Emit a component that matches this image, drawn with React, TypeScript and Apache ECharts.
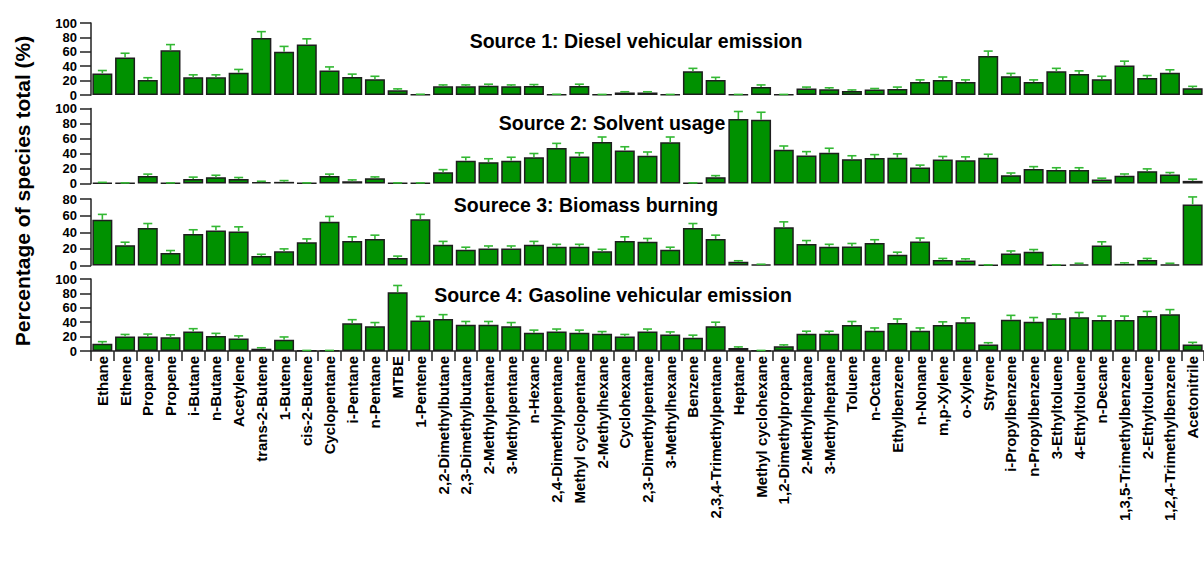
import React, { useEffect, useRef } from "react";
import * as echarts from "echarts";

const categories = [
  "Ethane", "Ethene", "Propane", "Propene", "i-Butane", "n-Butane", "Acetylene",
  "trans-2-Butene", "1-Butene", "cis-2-Butene", "Cyclopentane", "i-Pentane", "n-Pentane",
  "MTBE", "1-Pentene", "2,2-Dimethylbutane", "2,3-Dimethylbutane", "2-Methylpentane",
  "3-Methylpentane", "n-Hexane", "2,4-Dimethylpentane", "Methyl cyclopentane",
  "2-Methylhexane", "Cyclohexane", "2,3-Dimethylpentane", "3-Methylhexane", "Benzene",
  "2,3,4-Trimethylpentane", "Heptane", "Methyl cyclohexane", "1,2-Dimethylpropane",
  "2-Methylheptane", "3-Methylheptane", "Toluene", "n-Octane", "Ethylbenzene", "n-Nonane",
  "m,p-Xylene", "o-Xylene", "Styrene", "i-Propylbenzene", "n-Propylbenzene",
  "3-Ethyltoluene", "4-Ethyltoluene", "n-Decane", "1,3,5-Trimethylbenzene",
  "2-Ethyltoluene", "1,2,4-Trimethylbenzene", "Acetonitrile",
];

const panelTitles = [
  "Source 1: Diesel vehicular emission",
  "Source 2: Solvent usage",
  "Sourece 3: Biomass burning",
  "Source 4: Gasoline vehicular emission",
];

const yAxisTitle = "Percentage of species total (%)";

const s1Values = [
  30, 52, 21, 62, 24.5, 24.5, 31, 79, 60, 70, 34, 25, 22, 6.5, 0.5, 12, 12, 13, 12, 12.5,
  0.5, 12.5, 0.5, 3.5, 3.5, 0.5, 33, 21, 0.5, 11, 0.5, 9, 8, 5.5, 7.5, 8.5, 18, 21, 18, 54,
  26, 18, 33, 29, 22, 41, 23.5, 31, 9.5,
];
const s1Errors = [
  4, 6, 3, 8, 3.5, 3.5, 4.5, 9, 7.5, 8, 5, 4, 4, 2, 0.5, 2, 2, 2, 2, 2,
  0.5, 2.5, 0.3, 1, 1, 0.3, 4, 3.5, 0.3, 3, 0.3, 2, 2, 1.5, 1.5, 2.5, 3, 4, 3, 7,
  4, 3, 4, 4.5, 4, 6, 3.5, 4, 2.5,
];

const s2Values = [
  1, 0.5, 10, 0.5, 6, 8.5, 6, 1.8, 2.2, 0.5, 10, 3, 7, 0.5, 0.5, 15, 30.5, 28.5, 30.5, 35,
  47.5, 36, 55.5, 44, 37, 55, 0.5, 8.5, 86, 85, 45, 37.5, 41, 32.5, 34, 34.5, 21.5, 32, 31,
  34.5, 11, 19.5, 18, 18, 5.3, 10.5, 16.5, 12, 3.5,
];
const s2Errors = [
  0.5, 0.3, 2.5, 0.3, 2.5, 2.5, 2, 1.2, 1.7, 0.3, 2.5, 1.8, 1.8, 0.3, 0.3, 3.5, 4.5, 4.5, 4.5, 5,
  6, 5, 6.5, 5, 5, 7, 0.3, 2, 10, 10, 5, 5, 6, 4.5, 4.5, 5, 3, 4, 4.5,
  4.5, 3, 3, 3, 3, 1.8, 2.2, 3, 2.6, 2.3,
];

const s3Values = [
  55, 24.5, 45, 15, 38, 42, 41, 11.5, 17, 28, 52.5, 29.5, 32, 9, 55.5, 25, 19, 20.5, 20.5, 25,
  22.5, 22.5, 17, 29.5, 28.5, 19, 45, 32, 4.5, 1, 46, 26, 22.5, 23, 27, 13, 29, 6.5, 6,
  0.5, 14.5, 16.5, 0.5, 1.5, 24, 2, 6.5, 1.5, 73.5,
];
const s3Errors = [
  6.5, 3.5, 5.5, 3, 5, 5, 5.5, 2, 3, 4, 6.5, 5, 4.5, 2.3, 6, 4, 3, 3, 3, 4,
  3, 3, 2.5, 5, 4, 3, 5.5, 4.5, 1.2, 0.5, 6.5, 4, 3, 3.5, 4, 3, 4, 2, 2,
  0.3, 3, 2.7, 0.3, 1.2, 4.5, 1.2, 2, 1.2, 9,
];

const s4Values = [
  10, 20, 20, 19, 27, 21, 17.5, 3.2, 15.5, 0.5, 0.5, 38.5, 34.5, 81.5, 42.5, 44.5, 36.5, 36.5,
  34.5, 25.5, 27, 25.5, 24, 20, 27, 23, 18.5, 34.5, 4.2, 0.5, 6.5, 24, 24, 36, 28, 39, 28,
  36, 40, 9, 43.5, 40.5, 45.5, 47, 43, 43, 48.5, 51, 9,
];
const s4Errors = [
  3, 3, 3.5, 3.5, 4, 3.5, 3.5, 1.3, 4, 0.3, 0.3, 5, 5, 9.5, 5.5, 6, 4.5, 4.5,
  5, 3.5, 3.5, 3.5, 3, 3, 3.5, 3.5, 3.5, 5.5, 1.5, 0.3, 2, 3.5, 3.5, 5, 4, 5.5, 4,
  4.5, 6, 2.5, 6, 6, 6, 6.5, 5.5, 5.5, 6.5, 6.5, 3,
];

const panelValues = [s1Values, s2Values, s3Values, s4Values];
const panelErrors = [s1Errors, s2Errors, s3Errors, s4Errors];
const panelMax = [100, 100, 80, 100];

const FONT = "'Liberation Sans', Arial, sans-serif";

export default function App() {
  const ref = useRef<HTMLDivElement>(null);

  useEffect(() => {
    if (!ref.current) return;
    const chart = echarts.init(ref.current, null, { renderer: "svg" });

    const gridLayout = [
      { top: 23, height: 72 },
      { top: 108.5, height: 75 },
      { top: 199, height: 66.5 },
      { top: 279, height: 72 },
    ];
    const titlePos = [
      { x: 636, y: 41 },
      { x: 612, y: 123 },
      { x: 586, y: 205 },
      { x: 613, y: 295 },
    ];

    const grids = gridLayout.map((g) => ({ left: 91, right: -6, top: g.top, height: g.height }));

    const xAxes = gridLayout.map((_, k) => ({
      gridIndex: k,
      type: "category",
      data: categories,
      boundaryGap: true,
      show: k === 3,
      axisLine: { show: k === 3, lineStyle: { color: "#222", width: 1.5 } },
      axisTick: {
        show: k === 3,
        interval: 0,
        alignWithLabel: false,
        length: 10,
        lineStyle: { color: "#222", width: 1.5 },
      },
      axisLabel: {
        show: k === 3,
        interval: 0,
        rotate: 90,
        margin: 5,
        fontSize: 15,
        fontWeight: "bold",
        color: "#000",
        fontFamily: FONT,
      },
      splitLine: { show: false },
    }));

    const yAxes = gridLayout.map((_, k) => ({
      gridIndex: k,
      type: "value",
      min: 0,
      max: panelMax[k],
      interval: 20,
      splitLine: { show: false },
      axisLine: { show: true, lineStyle: { color: "#222", width: 1.5 } },
      axisTick: { show: true, length: 11, lineStyle: { color: "#222", width: 1.5 } },
      axisLabel: {
        fontSize: 13,
        lineHeight: 12,
        fontWeight: "bold",
        color: "#000",
        margin: 14,
        fontFamily: FONT,
        showMinLabel: true,
        showMaxLabel: true,
        hideOverlap: false,
      },
    }));

    const series: any[] = [];
    panelValues.forEach((vals, k) => {
      series.push({
        type: "bar",
        xAxisIndex: k,
        yAxisIndex: k,
        data: vals,
        barCategoryGap: "12%",
        itemStyle: { color: "#009100", borderColor: "#1e1e1e", borderWidth: 1.5 },
        z: 2,
      });
      series.push({
        type: "custom",
        xAxisIndex: k,
        yAxisIndex: k,
        clip: false,
        z: 3,
        encode: { x: 0, y: 1 },
        data: vals.map((v, i) => [i, v, panelErrors[k][i]]),
        renderItem: (params: any, api: any) => {
          const idx = api.value(0);
          const v = api.value(1);
          const e = api.value(2);
          const p0 = api.coord([idx, v]);
          const p1 = api.coord([idx, v + e]);
          const st = { stroke: "#33b833", lineWidth: 1.6 };
          return {
            type: "group",
            children: [
              { type: "line", shape: { x1: p0[0], y1: p0[1], x2: p1[0], y2: p1[1] }, style: st },
              { type: "line", shape: { x1: p1[0] - 4.5, y1: p1[1], x2: p1[0] + 4.5, y2: p1[1] }, style: st },
            ],
          };
        },
      });
    });

    const graphics: any[] = panelTitles.map((t, k) => ({
      type: "text",
      x: titlePos[k].x,
      y: titlePos[k].y,
      z: 10,
      style: {
        text: t,
        align: "center",
        verticalAlign: "middle",
        fill: "#000",
        font: `bold 19.5px ${FONT}`,
      },
    }));
    graphics.push({
      type: "text",
      x: 22,
      y: 191,
      rotation: Math.PI / 2,
      style: {
        text: yAxisTitle,
        align: "center",
        verticalAlign: "middle",
        fill: "#000",
        font: `bold 21px ${FONT}`,
      },
    });

    chart.setOption({
      animation: false,
      backgroundColor: "#fff",
      grid: grids,
      xAxis: xAxes,
      yAxis: yAxes,
      series,
      graphic: graphics,
    });

    return () => chart.dispose();
  }, []);

  return (
    <div
      ref={ref}
      style={{ position: "absolute", left: 0, top: 0, width: 1204, height: 571 }}
    />
  );
}
